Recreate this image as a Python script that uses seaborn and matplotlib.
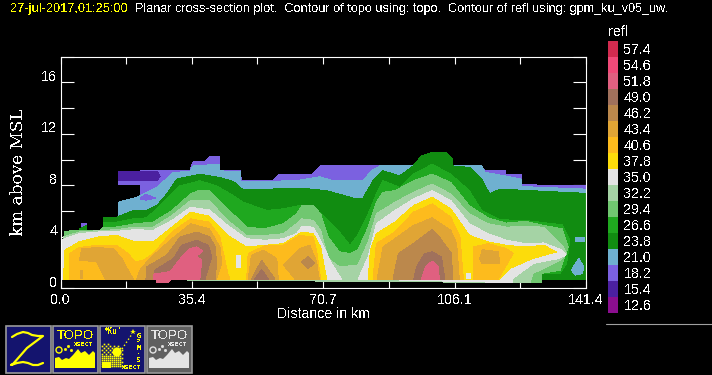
import numpy as np
import matplotlib
matplotlib.use("Agg")
import matplotlib.pyplot as plt
from matplotlib.colors import ListedColormap
from matplotlib.transforms import ScaledTranslation
from matplotlib.patches import Rectangle, Circle
import seaborn as sns

level_labels = ["57.4","54.6","51.8","49.0","46.2","43.4","40.6","37.8","35.0","32.2","29.4","26.6","23.8","21.0","18.2","15.4","12.6"]
level_colors = ["#D22B4F","#F04A78","#E06080","#A0715C","#BB884C","#E0A535","#FDBB1D","#FCDC0B","#E4E4E4","#A5D3A5","#70C770","#1FA81F","#118C11","#6FB0D0","#7B61E0","#4B20A0","#8B0E8F"]
x_ticks = [0, 17.7, 35.4, 53.0, 70.7, 88.4, 106.1, 123.7, 141.4]
x_tick_labels = ["0.0","","35.4","","70.7","","106.1","","141.4"]
y_ticks = [0,2,4,6,8,10,12,14,16,18]
y_tick_labels = ["0","","4","","8","","12","","16",""]

r15_x = [15.5,26,26.8,26,15.5]
r15_y = [9.07,9.07,8.7,8.35,8.35]
r18a_x = [15.5,21.4,21.4,15.5]
r18a_y = [9.12,9.12,8.04,8.04]
r18b_x = [21.4,29.5,34.8,35.7,38.9,40.2,42.65,42.66,48.5,48.6,57.3,58.6,64.4,67.8,70,95,95,21.4]
r18b_y = [9.12,9.12,9.12,9.84,9.84,10.27,10.27,9.12,9.12,8.4,8.4,8.8,8.8,8.86,9.5,9.5,5,5]
r18c_x = [113.3,114.2,119.6,119.8,124,124.05,141.4,141.4,113.3]
r18c_y = [9.5,9.12,9.12,8.8,8.8,8.04,7.96,5,5]
r18d_x = [21.4,23,25.6,23,21.4]
r18d_y = [7.0,7.3,7.0,6.85,6.9]
r18e_x = [5.6,7.0,7.0,5.6]
r18e_y = [5.05,5.05,4.7,4.7]
r21_x = [15.5,20.5,25.9,30.4,34.8,35.7,42.65,42.66,48.3,48.5,57.3,64.4,69.8,73.4,81.4,83.7,85.9,94.9,105.5,105.6,113.3,114.2,119.6,124,124.05,141.4,141.4,15.5]
r21_y = [6.68,7.06,7.83,9.0,9.07,9.5,9.63,9.12,9.07,8.3,8.3,8.4,8.66,8.35,8.35,9.12,9.5,9.5,9.89,9.5,9.5,9.0,8.73,8.48,7.9,7.7,0.72,0.72]
r21b_x = [138.4,141,141,138.4]
r21b_y = [3.98,3.98,3.6,3.6]
r21c_x = [137.5,138.5,139.5,140.7,140.5,138.5]
r21c_y = [1.4,1.9,2.31,1.7,1.15,1.03]
r24_x = [11.5,15.1,19.6,23.2,25.9,28.6,31.3,37.5,42.9,46.5,49.2,64.4,71.6,78.8,81.4,84.1,86.8,91.3,94.9,97.1,99.8,103.9,105.5,105.6,110.1,113.3,115.5,118.2,141.4,141.4,11.5]
r24_y = [5.52,5.52,6.04,6.04,6.42,7.32,8.48,8.86,8.6,8.3,7.63,7.78,7.58,7.0,7.0,8.35,9.12,8.73,9.5,10.27,10.53,10.53,10,9.5,9.38,8.48,7.32,7.7,7.37,0.72,0.72]
r24b_x = [5.2,7,7,5.2]
r24b_y = [4.6,4.9,4.3,4.3]
r27_x = [11.5,15.1,19.6,23.2,26.8,32.2,37.5,42,46.5,49.2,55.5,60,64.4,68,70.7,75,77.9,80,82.8,85,86.8,91.3,95,100,105,110,113.3,118.2,125,135,137,136.2,134.4,129.4,129.4,11.5]
r27_y = [5.14,5.14,5.39,5.47,6.42,7.96,8.35,7.96,7.19,6.68,6.04,6.17,6.42,6.29,5.65,4.37,3.34,4.11,5.78,7.32,8.35,7.83,8.86,9.63,8.86,7.58,6.04,5.32,5.27,4.93,3.73,1.93,1.16,1.16,0.72,0.72]
r29_x = [1.2,4.8,10.6,11.5,15,20,25,30,35,37.5,40,45,50,55,60,63.5,65,68,70,72,75,77.9,80,82.8,85,86.8,90,95,100,105,110,115,120,125,130,135,136.6,134.4,129.5,129.4,124.5,1.2]
r29_y = [4.42,4.5,4.5,4.75,4.75,5.01,5.14,6.04,7.32,7.63,7.58,6.17,4.75,4.62,5.01,5.78,6.42,6.42,5.78,3.98,2.83,2.7,2.96,4.75,6.68,7.45,7.58,8.35,8.86,8.22,6.42,5.47,5.06,5.2,4.88,4.62,3.21,1.4,1.16,0.44,0.44,0.72]
r32_x = [0.8,5,11.5,15,20,25,30,35,40,45,50,55,60,63.5,65,68,70,72,75,80,82.8,85,90,95,100,105,110,115,120,125,130,135,136.2,134.4,127.2,126.3,124.5,0.8]
r32_y = [3.98,4.37,4.5,4.55,4.75,4.75,5.65,6.81,6.81,5.27,4.11,4.11,4.24,5.01,5.39,5.27,4.5,2.31,1.67,1.8,3.6,5.78,6.68,7.45,8.09,7.32,5.78,5.01,4.75,4.8,4.75,3.34,2.7,2.18,1.16,0.44,0.44,0.72]
r35a_x = [0,5,10,15,20,25,30,35,40,45,50,55,60,63.5,65,68,70,72.9,75.2,75.5,0]
r35a_y = [3.73,4.24,4.37,4.42,4.55,4.5,5.27,6.29,6.09,4.88,3.85,3.73,3.85,4.24,4.8,4.75,3.73,1.93,0.9,0.72,0.72]
r35b_x = [80.1,82.8,85,90,95,100,105,110,115,120,125,130,135,136,134,127.2,121.5,121.5,80.1]
r35b_y = [0.72,2.44,5.01,6.04,6.94,7.58,6.81,5.01,4.24,3.73,3.47,3.52,2.96,2.57,2.31,1.93,0.72,0.44,0.72]
r38a_x = [0.8,1.2,5,10,15,20,25,30,35,40,45,50,55,60,65,68,70,71.6,0.8]
r38a_y = [0.72,2.96,3.6,3.98,4.11,3.6,3.6,4.75,5.91,5.6,4.11,3.21,3.34,3.47,4.37,4.24,3.2,0.72,0.72]
r38b_x = [82.8,83.4,85,90,95,100,105,110,115,120,125,130,133.5,127,120.9,118.2,82.8]
r38b_y = [0.72,3.0,4.24,5.14,6.42,7.06,6.17,4.11,3.6,3.34,3.2,3.34,2.83,2.31,1.54,0.72,0.72]
r35c_x = [47.2,48.7,48.7,47.2]
r35c_y = [2.57,2.57,1.6,1.6]
r35d_x = [109,110.4,110.4,109]
r35d_y = [1.16,1.16,0.72,0.72]
r41a_x = [2.5,2.5,5,10,15,18.2,20,22.3,25,30,35,40,42.9,45,45.6]
r41a_y = [0.72,2.7,3.16,3.34,3.34,2.7,2.06,2.18,2.7,4.37,5.39,5.14,3.98,1.16,0.72]
r41b_x = [50.1,50.5,55,60,64.4,68,68.9,70]
r41b_y = [0.72,2.7,3.3,3.34,4.11,3.98,2.96,0.72]
r41c_x = [84.1,85,90,95,100,105,107.5,108.4]
r41c_y = [0.72,3.47,4.37,5.91,6.55,5.52,3.98,0.72]
r41d_x = [111,111.2,115,120,121.8,117.8]
r41d_y = [0.72,3.21,3.47,3.08,2.7,0.72]
r43a_x = [5.1,5.7,10,14.2,16.5,18.2,19.6,12,9.7]
r43a_y = [2.18,3.08,3.16,3.08,2.31,1.41,0.72,0.72,2.06]
r43b_x = [5.2,6.1,6.1,5.2]
r43b_y = [1.4,1.4,0.72,0.72]
r43c_x = [20.5,21.4,24,30,35,40,42.9,43.4,42]
r43c_y = [0.72,1.41,2.31,3.85,5.01,4.62,3.21,1.93,0.72]
r43d_x = [50.5,51.4,54.6,58.2,58.6]
r43d_y = [0.72,2.57,2.96,2.31,0.72]
r43e_x = [63.1,60,64.4,67.1,68.9,69.6]
r43e_y = [0.72,1.8,3.08,3.34,2.06,0.72]
r43f_x = [85.2,86.8,90,95,100,105,106.6,107.3]
r43f_y = [0.72,3.21,3.85,4.88,5.47,4.5,3.47,0.72]
r43g_x = [112.8,113.5,117.8,118.2,113.5]
r43g_y = [2.3,3.0,2.83,1.9,1.9]
r46a_x = [23,23.2,28.6,32.2,36.6,40.2,41.6,42,41.6]
r46a_y = [0.72,1.67,2.57,3.98,4.37,3.98,3.21,1.93,0.72]
r46b_x = [51.4,54.1,57.7]
r46b_y = [0.72,2.18,0.72]
r46c_x = [64.8,66.6,68.4,66.6]
r46c_y = [2.06,2.44,1.93,1.54]
r46d_x = [89.5,90.9,95,98.5,100,101.6,105.2,105.5]
r46d_y = [0.72,2.7,3.47,4.24,4.55,4.11,2.7,0.72]
r49a_x = [25,25.4,30.4,32.6,36.6,39.8,40.7,38.9]
r49a_y = [0.72,1.41,2.31,3.34,3.73,3.34,2.44,0.72]
r49b_x = [52.3,54.1,55.9]
r49b_y = [0.72,1.47,0.72]
r49c_x = [95.1,95.8,98,100,102.5,103.4]
r49c_y = [0.72,1.67,2.7,2.83,2.44,0.72]
r52a_x = [25,25,29.5,32.6,34.8,36.6,38.3,36.6,38,37.5,30,29,25.9,25.9]
r52a_y = [0.72,1.1,1.29,2.44,3.08,3.21,2.9,2.49,2.18,0.72,0.72,0.44,0.44,0.72]
r52b_x = [97.1,98.2,100,101.7,101.9]
r52b_y = [0.72,1.67,2.11,1.67,0.72]

layers = [
    (18.2,r18a_x,r18a_y),(18.2,r18b_x,r18b_y),(18.2,r18c_x,r18c_y),(18.2,r18e_x,r18e_y),(15.4,r15_x,r15_y),
    (21.0,r21_x,r21_y),(18.2,r18d_x,r18d_y),
    (23.8,r24_x,r24_y),(23.8,r24b_x,r24b_y),(21.0,r21b_x,r21b_y),(21.0,r21c_x,r21c_y),
    (26.6,r27_x,r27_y),(29.4,r29_x,r29_y),(32.2,r32_x,r32_y),
    (35.0,r35a_x,r35a_y),(35.0,r35b_x,r35b_y),(37.8,r38a_x,r38a_y),(37.8,r38b_x,r38b_y),
    (35.0,r35c_x,r35c_y),(35.0,r35d_x,r35d_y),
    (40.6,r41a_x,r41a_y),(40.6,r41b_x,r41b_y),(40.6,r41c_x,r41c_y),(40.6,r41d_x,r41d_y),
    (43.4,r43a_x,r43a_y),(43.4,r43b_x,r43b_y),(43.4,r43c_x,r43c_y),(43.4,r43d_x,r43d_y),(43.4,r43e_x,r43e_y),(43.4,r43f_x,r43f_y),(43.4,r43g_x,r43g_y),
    (46.2,r46a_x,r46a_y),(46.2,r46b_x,r46b_y),(46.2,r46c_x,r46c_y),(46.2,r46d_x,r46d_y),
    (49.0,r49a_x,r49a_y),(49.0,r49b_x,r49b_y),(49.0,r49c_x,r49c_y),
    (51.8,r52a_x,r52a_y),(51.8,r52b_x,r52b_y),
]

sns.set_style("dark", {"axes.facecolor":"black","figure.facecolor":"black","text.color":"white"})
plt.rcParams["font.family"] = ["Liberation Sans","DejaVu Sans"]
plt.rcParams["text.antialiased"] = False
W, H = 712, 375
fig = plt.figure(figsize=(W/100, H/100), dpi=100, facecolor="black")
ax = fig.add_axes([60.5/W, 1-288.3/H, 525.5/W, 231.8/H], facecolor="black")
palette = sns.color_palette(level_colors)
color_of = {float(l): c for l, c in zip(level_labels, palette)}
for lev, xs, ys in layers:
    ax.fill(xs, ys, color=color_of[lev], lw=0, antialiased=False)
ax.set_xlim(0, 141.4); ax.set_ylim(0, 18)
ax.set_xticks(x_ticks); ax.set_xticklabels(x_tick_labels)
ax.set_yticks(y_ticks); ax.set_yticklabels(y_tick_labels)
ax.grid(False)
ax.tick_params(axis="x", direction="in", length=4.8, width=0.8, color="white", labelcolor="white", labelsize=10.3, pad=3.5, bottom=True, top=True)
ax.tick_params(axis="y", direction="in", length=9.4, width=0.8, color="white", labelcolor="white", labelsize=10.3, pad=2.5, left=True, right=True)
off = ScaledTranslation(0, 5/72, fig.dpi_scale_trans)
for t in ax.get_yticklabels():
    t.set_transform(t.get_transform() + off)
for s in ax.spines.values():
    s.set_color("white"); s.set_linewidth(0.8); s.set_visible(True)
fig.text(323/W, 1-314/H, "Distance in km", color="white", fontsize=10.2, ha="center", va="center")
fig.text(19/W, 1-172/H, "km above MSL", color="white", fontsize=12.2, rotation=90, ha="center", va="center", family="DejaVu Serif")
fig.text(10.5/W, 1-9/H, "27-jul-2017,01:25:00", color="#FFFF00", fontsize=9.2, va="center")
fig.text(135/W, 1-9/H, "Planar cross-section plot.  Contour of topo using: topo.  Contour of refl using: gpm_ku_v05_uw.", color="white", fontsize=9.1, va="center")
fig.text(608/W, 1-32/H, "refl", color="white", fontsize=10.3, va="center")

cax = fig.add_axes([608/W, 1-313/H, 10/W, 272/H])
sns.heatmap(np.arange(len(level_labels)).reshape(-1,1), ax=cax, cmap=ListedColormap(level_colors), cbar=False, xticklabels=False, yticklabels=level_labels)
cax.yaxis.tick_right()
cax.tick_params(axis="y", length=0, labelcolor="white", labelsize=10.3, pad=4, labelrotation=0)

# bottom icons and rule, in pixel coordinates
ov = fig.add_axes([0,0,1,1], facecolor="none")
ov.set_xlim(0,W); ov.set_ylim(H,0); ov.axis("off")
ov.plot([606,712],[323.5,323.5], color="#A0A0A0", lw=0.8)
navy = "#14146E"; yel = "#FFFF00"; lite = "#E4E4E4"
for x0, bg in [(5,navy),(52,navy),(99,navy),(146,"#606060")]:
    ov.add_patch(Rectangle((x0+0.5,325.5),45,47, fc=bg, ec="#9A9A9A", lw=1.2))
ov.plot([12,17,23,28,32,38,43,35,27,20,13,11,17,23,28,33,38,43],[337,334,332,333,335,336,336,342,348,356,364,365,363,362,363,365,365,363], color=yel, lw=1.6)
def topo(x0, c):
    ov.text(x0+23, 336, "TOPO", color=c, fontsize=9.5, ha="center", va="center")
    ov.text(x0+32, 344, "XSECT", color=c, fontsize=4.6, ha="center", va="center", family="DejaVu Sans Mono", weight="bold")
    ov.fill([x0+3,x0+3,x0+7,x0+10,x0+14,x0+17,x0+21,x0+26,x0+29,x0+33,x0+37,x0+41,x0+43,x0+43],
            [368,358,357,360,358,359,355,349,353,351,355,351,353,368], color=c, lw=0)
    ov.add_patch(Circle((x0+7,350),3,fc="none",ec=c,lw=1))
    ov.plot([x0+13,x0+16,x0+19],[349,346,350],ls="none",marker="s",ms=1,color=c)
topo(52, yel); topo(146, lite)
cx = [x for x in range(102,124,2) for y in range(342,368,2)]
cy = [y for x in range(102,124,2) for y in range(342,368,2)]
keep = [(a,b) for a,b in zip(cx,cy) if (b-342) > (a-102)*0.2 and (a+b)%4==0 or b>=356 and a<122]
ov.plot([k[0] for k in keep],[k[1] for k in keep],ls="none",marker="s",ms=1.2,mew=0,color=yel)
ov.add_patch(Rectangle((102,362),9,6,fc=yel,ec="none"))
ov.add_patch(Circle((117,352),4.5,fc=yel,ec="none"))
ov.text(113,332,"*Ku'",color=yel,fontsize=5.5,ha="center",va="center",family="DejaVu Sans Mono",weight="bold")
ov.text(139,348,"G\nP\nM\n\u00b7\nS",color=yel,fontsize=5,ha="center",va="center",family="DejaVu Sans Mono",linespacing=1.05,weight="bold")
ov.text(132,367.5,"XSECT",color=yel,fontsize=4.6,ha="center",va="center",family="DejaVu Sans Mono",weight="bold")
ov.plot([120,132],[352,334],color=yel,lw=1,ls=":")
ov.plot([133],[332],marker="*",ms=4,mew=0,color=yel)
fig.savefig("out.png", dpi=100, facecolor="black")
